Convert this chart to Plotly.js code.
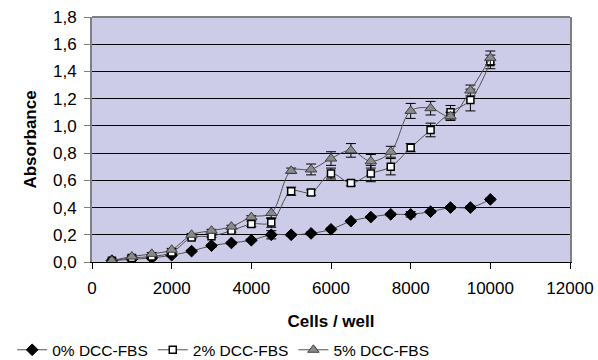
<!DOCTYPE html>
<html>
<head>
<meta charset="utf-8">
<script src="https://cdn.plot.ly/plotly-3.0.1.min.js"></script>
<style>html,body{margin:0;padding:0;background:#fff;}#chart{width:598px;height:360px;}</style>
</head>
<body>
<div id="chart"></div>
<script>
const cells = [500,1000,1500,2000,2500,3000,3500,4000,4500,5000,5500,6000,6500,7000,7500,8000,8500,9000,9500,10000];
const fbs0 = [0.01,0.02,0.03,0.05,0.08,0.12,0.14,0.16,0.20,0.20,0.21,0.24,0.30,0.33,0.35,0.35,0.37,0.40,0.40,0.46];
const fbs0Err = [0.005,0.005,0.01,0.01,0.01,0.01,0.01,0.01,0.03,0.01,0.01,0.01,0.01,0.01,0.01,0.02,0.01,0.01,0.01,0.01];
const fbs2 = [0.01,0.03,0.04,0.07,0.18,0.19,0.23,0.28,0.29,0.52,0.51,0.65,0.58,0.65,0.70,0.84,0.97,1.10,1.19,1.47];
const fbs2Err = [0.01,0.01,0.01,0.01,0.01,0.01,0.01,0.02,0.035,0.03,0.02,0.04,0.02,0.06,0.06,0.03,0.05,0.05,0.08,0.05];
const fbs5 = [0.01,0.04,0.06,0.09,0.20,0.23,0.26,0.33,0.36,0.67,0.68,0.76,0.82,0.74,0.81,1.11,1.13,1.07,1.26,1.50];
const fbs5Err = [0.01,0.01,0.01,0.01,0.01,0.01,0.01,0.01,0.04,0.02,0.04,0.05,0.05,0.05,0.04,0.055,0.05,0.03,0.04,0.05];
const seriesNames = ['0% DCC-FBS','2% DCC-FBS','5% DCC-FBS'];

const lineStyle = {color:'#505050', width:1, shape:'spline', smoothing:1};
const errStyle = (arr) => ({type:'data', array:arr, visible:true, color:'#000', thickness:1, width:5});

const traces = [
  {x:cells, y:fbs0, name:seriesNames[0], mode:'lines+markers', line:lineStyle,
   marker:{symbol:'diamond', size:9, color:'#000', line:{color:'#000', width:1}}, error_y:errStyle(fbs0Err)},
  {x:cells, y:fbs2, name:seriesNames[1], mode:'lines+markers', line:lineStyle,
   marker:{symbol:'square', size:7, color:'#fff', line:{color:'#000', width:1.5}}, error_y:errStyle(fbs2Err)},
  {x:cells, y:fbs5, name:seriesNames[2], mode:'lines+markers', line:lineStyle,
   marker:{symbol:'triangle-up', size:10, color:'#8a8a8a', line:{color:'#404040', width:1}}, error_y:errStyle(fbs5Err)}
];

const layout = {
  width:598, height:360,
  margin:{l:92, r:28, t:17, b:98, autoexpand:false},
  paper_bgcolor:'#fff', plot_bgcolor:'#CCCCE8',
  separators:',.',
  font:{family:'"Liberation Sans", Arial, sans-serif', size:17, color:'#000'},
  showlegend:true,
  legend:{orientation:'h', x:-0.167, xanchor:'left', y:-0.36, yanchor:'middle',
          font:{size:15.5}, bgcolor:'rgba(0,0,0,0)'},
  xaxis:{range:[0,12000], tick0:0, dtick:2000, tickformat:'d', showgrid:false, zeroline:false,
         showline:true, linecolor:'#000', linewidth:1, ticks:'outside', ticklen:6, tickcolor:'#000',
         ticklabelstandoff:5,
         title:{text:'<b>Cells / well</b>', font:{size:17}, standoff:17}},
  yaxis:{range:[0,1.8], tick0:0, dtick:0.2, tickformat:'.1f', showgrid:true, gridcolor:'#000', gridwidth:1,
         zeroline:false, showline:true, linecolor:'#808080', linewidth:2, mirror:true,
         ticks:'outside', ticklen:6, tickcolor:'#808080', ticklabelstandoff:4,
         title:{text:'<b>Absorbance</b>', font:{size:17}, standoff:12}},
  shapes:[{type:'line', xref:'paper', yref:'paper', x0:0, x1:1, y0:1, y1:1, line:{color:'#808080', width:2}, layer:'above'}]
};

Plotly.newPlot('chart', traces, layout, {displayModeBar:false, staticPlot:true});
</script>
</body>
</html>
